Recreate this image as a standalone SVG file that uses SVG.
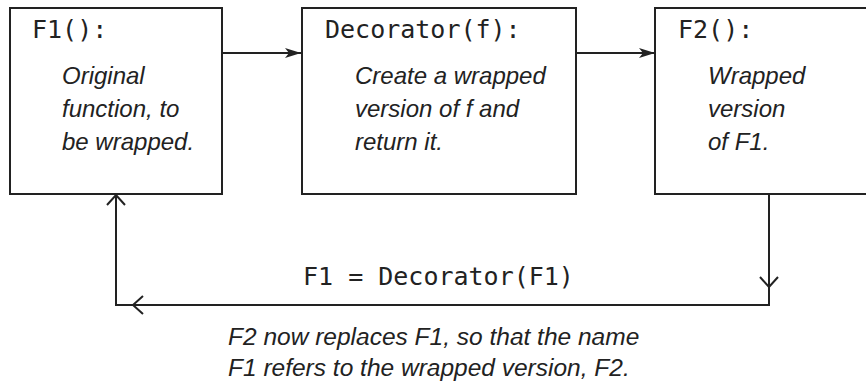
<svg xmlns="http://www.w3.org/2000/svg" width="866" height="384" viewBox="0 0 866 384">
<style>
.box{fill:#fff;stroke:#222;stroke-width:2}
.mono{font-family:"DejaVu Sans Mono","Liberation Mono",monospace;font-size:25px;fill:#222}
.it{font-family:"Liberation Sans",Arial,sans-serif;font-style:italic;font-size:24px;fill:#222}
.cap{font-size:24.5px}
.ln{fill:none;stroke:#222;stroke-width:2}
</style>
<defs>
<marker id="tri" viewBox="0 0 16 10" refX="16" refY="5" markerWidth="16" markerHeight="10" markerUnits="userSpaceOnUse" orient="auto">
<path d="M0,0 L16,5 L0,10 L4,5 Z" fill="#222"/>
</marker>
</defs>
<rect width="866" height="384" fill="#fff"/>
<g id="connectors">
<line class="ln" x1="222" y1="53" x2="301" y2="53" marker-end="url(#tri)"/>
<line class="ln" x1="576" y1="53" x2="655" y2="53" marker-end="url(#tri)"/>
<polyline class="ln" points="769,194 769,305 116,305 116,194"/>
<polyline class="ln" points="760,277 769,287 778,277"/>
<polyline class="ln" points="143,296 133,305 143,314"/>
<polyline class="ln" points="107,205 116,195 125,205"/>
<text class="mono" x="303" y="285">F1 = Decorator(F1)</text>
<text class="it cap" x="228" y="345">F2 now replaces F1, so that the name</text>
<text class="it cap" x="228" y="376">F1 refers to the wrapped version, F2.</text>
</g>
<g id="f1">
<rect class="box" x="10" y="8" width="212" height="186"/>
<text class="mono" x="32" y="38">F1():</text>
<text class="it" x="62" y="84">Original</text>
<text class="it" x="62" y="117">function, to</text>
<text class="it" x="62" y="150">be wrapped.</text>
</g>
<g id="decorator">
<rect class="box" x="302" y="8" width="274" height="186"/>
<text class="mono" x="325" y="38">Decorator(f):</text>
<text class="it" x="355" y="84">Create a wrapped</text>
<text class="it" x="355" y="117">version of f and</text>
<text class="it" x="355" y="150">return it.</text>
</g>
<g id="f2">
<rect class="box" x="655" y="8" width="215" height="186"/>
<text class="mono" x="678" y="38">F2():</text>
<text class="it" x="708" y="84">Wrapped</text>
<text class="it" x="708" y="117">version</text>
<text class="it" x="708" y="150">of F1.</text>
</g>
</svg>
